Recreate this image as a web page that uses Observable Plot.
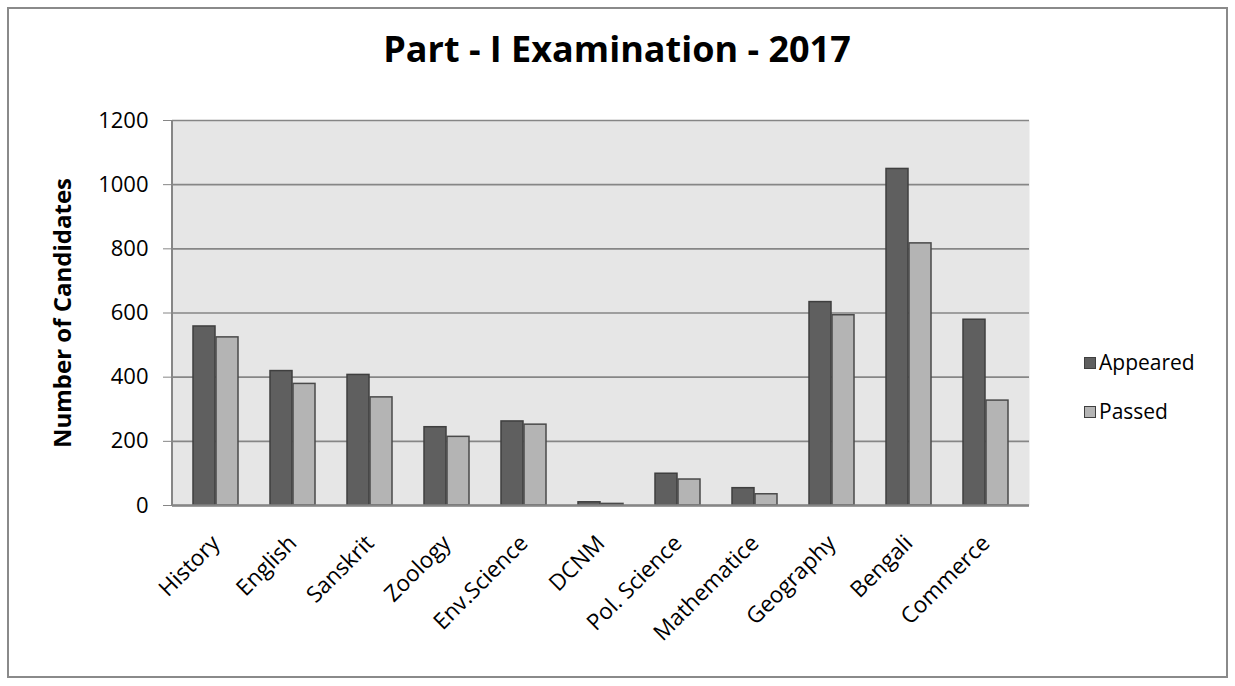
<!DOCTYPE html>
<html><head><meta charset="utf-8">
<script src="https://cdn.jsdelivr.net/npm/d3@7"></script>
<script src="https://cdn.jsdelivr.net/npm/@observablehq/plot@0.6"></script>
<style>
body{margin:0;background:#fff;font-family:"Open Sans",sans-serif}
#wrap{position:relative;width:1235px;height:686px;overflow:hidden}
#border{position:absolute;left:7px;top:7px;width:1221px;height:671px;border:2px solid #8a8a8a;box-sizing:border-box}
#chart{position:absolute;left:0;top:0}
#legend{position:absolute;left:1084px;top:338px;font-size:21px;color:#000;line-height:49px}
#legend .it{display:flex;align-items:center}
#legend .sw{width:12px;height:12px;box-sizing:border-box;border:1.5px solid #3f3f3f;margin-right:3px}
</style></head>
<body>
<div id="wrap"><div id="border"></div><div id="chart"></div>
<div id="legend"></div></div>
<script>
const categories = ["History","English","Sanskrit","Zoology","Env.Science","DCNM","Pol. Science","Mathematice","Geography","Bengali","Commerce"];
const appeared = [558, 419, 407, 244, 262, 10, 99, 54, 634, 1049, 579];
const passed = [524, 379, 337, 214, 252, 5, 81, 35, 593, 817, 327];
const yTicks = [0, 200, 400, 600, 800, 1000, 1200];
const seriesNames = ["Appeared", "Passed"];
const seriesColors = ["#5f5f5f", "#b4b4b4"];
const title = "Part - I Examination - 2017";
const yLabel = "Number of Candidates";

const rows = categories.map((c, i) => ({subject: c, appeared: appeared[i], passed: passed[i]}));

const leftLine = (index, scales, values, dims) => {
  const ns = "http://www.w3.org/2000/svg";
  const l = document.createElementNS(ns, "line");
  l.setAttribute("x1", dims.marginLeft); l.setAttribute("x2", dims.marginLeft);
  l.setAttribute("y1", dims.marginTop); l.setAttribute("y2", dims.height - dims.marginBottom);
  l.setAttribute("stroke", "#868686"); l.setAttribute("stroke-width", 2);
  return l;
};

const chart = Plot.plot({
  width: 1235, height: 686,
  marginLeft: 172, marginRight: 206, marginTop: 120, marginBottom: 181,
  style: {fontFamily: "'Open Sans', sans-serif", background: "transparent", color: "#000"},
  x: {domain: categories, padding: 0, label: null},
  y: {domain: [0, 1200], label: null},
  marks: [
    Plot.frame({fill: "#e6e6e6", stroke: null}),
    Plot.gridY(yTicks, {stroke: "#868686", strokeOpacity: 1, strokeWidth: 1.7}),
    Plot.barY(rows, {x: "subject", y: "appeared", fill: seriesColors[0], stroke: "#3f3f3f", strokeWidth: 1.5, insetLeft: 16, insetRight: 39}),
    Plot.barY(rows, {x: "subject", y: "passed", fill: seriesColors[1], stroke: "#4a4a4a", strokeWidth: 1.5, insetLeft: 39, insetRight: 16}),
    Plot.ruleY([0], {stroke: "#868686", strokeWidth: 2.5}),
    leftLine,
    Plot.axisY(yTicks, {tickSize: 9, tickPadding: 15, fontSize: 22, stroke: "#868686", tickFormat: d => String(d), label: null}),
    Plot.axisX({tickSize: 0, tickPadding: 34, tickRotate: -45, fontSize: 22.5, label: null}),
    Plot.text([yLabel], {frameAnchor: "left", dx: -109, rotate: -90, textAnchor: "middle", fontSize: 24, fontWeight: "bold"}),
    Plot.text([title], {frameAnchor: "top", dx: 16, dy: -84, textAnchor: "middle", fontSize: 36, fontWeight: "bold"})
  ]
});
document.getElementById("chart").appendChild(chart);

const lg = document.getElementById("legend");
seriesNames.forEach((n, i) => {
  const d = document.createElement("div"); d.className = "it";
  const s = document.createElement("span"); s.className = "sw"; s.style.background = seriesColors[i];
  const t = document.createElement("span"); t.textContent = n;
  d.appendChild(s); d.appendChild(t); lg.appendChild(d);
});
</script>
</body></html>
